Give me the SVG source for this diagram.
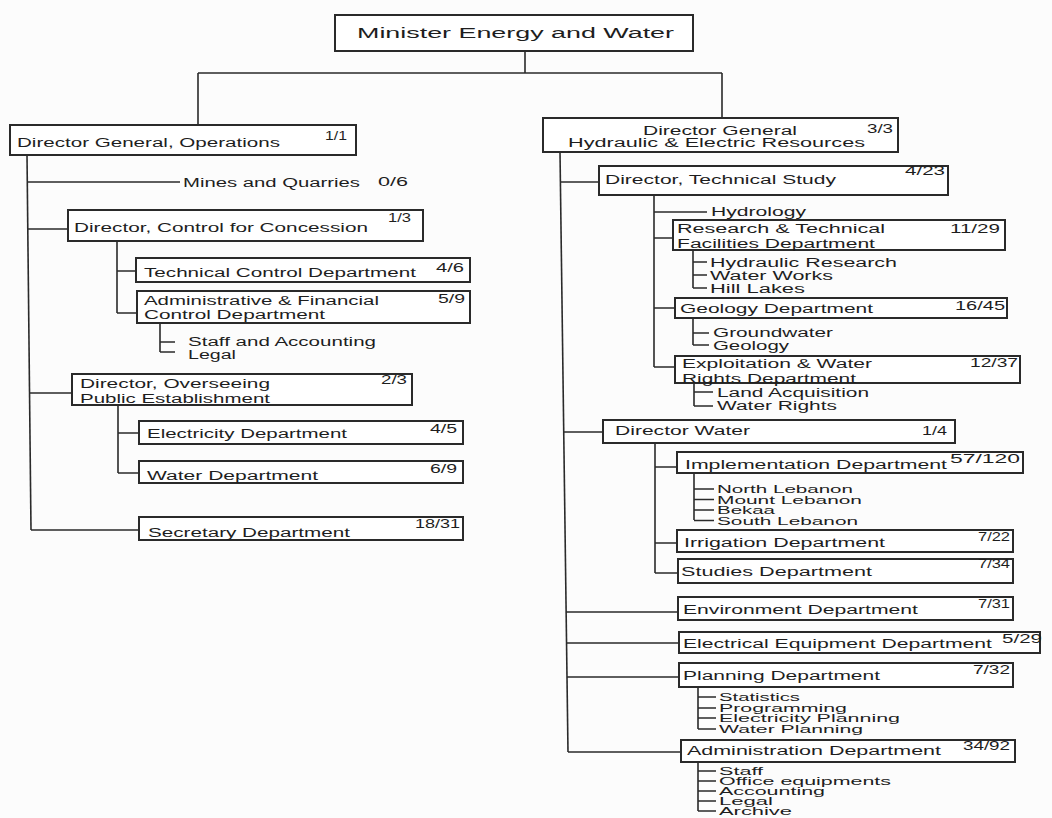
<svg xmlns="http://www.w3.org/2000/svg" width="1052" height="818" viewBox="0 0 1052 818">
<style>
.bg{fill:#fcfcfc}
.box{fill:#ffffff;stroke:#2a2a2a;stroke-width:2}
.ln{fill:none;stroke:#2a2a2a;stroke-width:1.6}
text{font-family:"Liberation Sans",Arial,sans-serif;font-size:12px;fill:#1e1e1e}
.big{font-size:14px}
.sm{font-size:10px}
</style>
<rect class="bg" x="0" y="0" width="1052" height="818"/>

<g id="connectors">
<path class="ln" d="M525 51V73M198 73H722M198 73V125M722 73V118"/>
<!-- left tree -->
<path class="ln" d="M27 155L31 530"/>
<path class="ln" d="M27 182H180"/>
<path class="ln" d="M28 229H68"/>
<path class="ln" d="M117 241V313M117 271H136M117 313H137"/>
<path class="ln" d="M160 323V352M160 342H175M160 352H175"/>
<path class="ln" d="M29 393H72"/>
<path class="ln" d="M118 405V473M118 433H139M118 473H139"/>
<path class="ln" d="M31 530H139"/>
<!-- right tree -->
<path class="ln" d="M560 152L568 752"/>
<path class="ln" d="M560.4 182H599"/>
<path class="ln" d="M654 195V367M654 212H707M654 238H673M654 308H675M654 367H675"/>
<path class="ln" d="M693 250V288M693 262H707M693 275H707M693 288H707"/>
<path class="ln" d="M693 318V345M693 333H709M693 345H709"/>
<path class="ln" d="M694 383V406M694 392H713M694 406H713"/>
<path class="ln" d="M563.7 432H603"/>
<path class="ln" d="M655 443V573M655 467H677M655 543H677M655 573H678"/>
<path class="ln" d="M694 473V520M694 489H714M694 499.5H714M694 510H714M694 520.5H714"/>
<path class="ln" d="M566.1 612H678"/>
<path class="ln" d="M566.5 643H679"/>
<path class="ln" d="M567 677H679"/>
<path class="ln" d="M568 752H681"/>
<path class="ln" d="M698 687V729M698 697H716M698 708H716M698 718H716M698 729H716"/>
<path class="ln" d="M698 762V811M698 771H716M698 781H716M698 791H716M698 801H716M698 811H716"/>
</g>

<g id="minister">
<rect class="box" x="335" y="15" width="358" height="36"/>
<text class="big" x="357" y="38" textLength="317" lengthAdjust="spacingAndGlyphs">Minister Energy and Water</text>
</g>

<g id="dg-operations">
<rect class="box" x="10" y="125" width="346" height="30"/>
<text x="17" y="147" textLength="263" lengthAdjust="spacingAndGlyphs">Director General, Operations</text>
<text x="325" y="140" textLength="22" lengthAdjust="spacingAndGlyphs">1/1</text>
</g>

<g id="mines">
<text x="183" y="187" textLength="177" lengthAdjust="spacingAndGlyphs">Mines and Quarries</text>
<text x="378" y="186" textLength="30" lengthAdjust="spacingAndGlyphs">0/6</text>
</g>

<g id="dir-concession">
<rect class="box" x="68" y="210" width="355" height="31"/>
<text x="74" y="232" textLength="294" lengthAdjust="spacingAndGlyphs">Director, Control for Concession</text>
<text x="388" y="222" textLength="23" lengthAdjust="spacingAndGlyphs">1/3</text>
</g>

<g id="tech-control">
<rect class="box" x="136" y="258" width="334" height="24"/>
<text x="144" y="277" textLength="272" lengthAdjust="spacingAndGlyphs">Technical Control Department</text>
<text x="436" y="272" textLength="28" lengthAdjust="spacingAndGlyphs">4/6</text>
</g>

<g id="admin-financial">
<rect class="box" x="137" y="291" width="333" height="32"/>
<text x="144" y="305" textLength="235" lengthAdjust="spacingAndGlyphs">Administrative &amp; Financial</text>
<text x="144" y="319" textLength="181" lengthAdjust="spacingAndGlyphs">Control Department</text>
<text x="438" y="303" textLength="27" lengthAdjust="spacingAndGlyphs">5/9</text>
<text x="188" y="346" textLength="188" lengthAdjust="spacingAndGlyphs">Staff and Accounting</text>
<text x="188" y="359" textLength="48" lengthAdjust="spacingAndGlyphs">Legal</text>
</g>

<g id="dir-overseeing">
<rect class="box" x="72" y="374" width="340" height="31"/>
<text x="80" y="388" textLength="190" lengthAdjust="spacingAndGlyphs">Director, Overseeing</text>
<text x="80" y="403" textLength="190" lengthAdjust="spacingAndGlyphs">Public Establishment</text>
<text x="381" y="384" textLength="26" lengthAdjust="spacingAndGlyphs">2/3</text>
</g>

<g id="electricity">
<rect class="box" x="139" y="421" width="324" height="23"/>
<text x="147" y="438" textLength="200" lengthAdjust="spacingAndGlyphs">Electricity Department</text>
<text x="430" y="433" textLength="27" lengthAdjust="spacingAndGlyphs">4/5</text>
</g>

<g id="water-dept">
<rect class="box" x="139" y="461" width="324" height="22"/>
<text x="147" y="480" textLength="171" lengthAdjust="spacingAndGlyphs">Water Department</text>
<text x="430" y="473" textLength="27" lengthAdjust="spacingAndGlyphs">6/9</text>
</g>

<g id="secretary">
<rect class="box" x="139" y="517" width="324" height="23"/>
<text x="148" y="537" textLength="202" lengthAdjust="spacingAndGlyphs">Secretary Department</text>
<text x="415" y="528" textLength="45" lengthAdjust="spacingAndGlyphs">18/31</text>
</g>

<g id="dg-hydraulic">
<rect class="box" x="543" y="118" width="355" height="34"/>
<text x="643" y="135" textLength="154" lengthAdjust="spacingAndGlyphs">Director General</text>
<text x="568" y="147" textLength="297" lengthAdjust="spacingAndGlyphs">Hydraulic &amp; Electric Resources</text>
<text x="867" y="133" textLength="26" lengthAdjust="spacingAndGlyphs">3/3</text>
</g>

<g id="dir-tech-study">
<rect class="box" x="599" y="166" width="349" height="29"/>
<text x="605" y="184" textLength="231" lengthAdjust="spacingAndGlyphs">Director, Technical Study</text>
<text x="905" y="175" textLength="40" lengthAdjust="spacingAndGlyphs">4/23</text>
<text x="711" y="216" textLength="95" lengthAdjust="spacingAndGlyphs">Hydrology</text>
</g>

<g id="research">
<rect class="box" x="673" y="220" width="332" height="30"/>
<text x="677" y="233" textLength="208" lengthAdjust="spacingAndGlyphs">Research &amp; Technical</text>
<text x="677" y="248" textLength="198" lengthAdjust="spacingAndGlyphs">Facilities Department</text>
<text x="950" y="233" textLength="50" lengthAdjust="spacingAndGlyphs">11/29</text>
<text x="710" y="267" textLength="187" lengthAdjust="spacingAndGlyphs">Hydraulic Research</text>
<text x="710" y="280" textLength="123" lengthAdjust="spacingAndGlyphs">Water Works</text>
<text x="710" y="293" textLength="95" lengthAdjust="spacingAndGlyphs">Hill Lakes</text>
</g>

<g id="geology">
<rect class="box" x="675" y="298" width="332" height="20"/>
<text x="680" y="313" textLength="193" lengthAdjust="spacingAndGlyphs">Geology Department</text>
<text x="955" y="310" textLength="50" lengthAdjust="spacingAndGlyphs">16/45</text>
<text x="713" y="337" textLength="120" lengthAdjust="spacingAndGlyphs">Groundwater</text>
<text x="713" y="350" textLength="76" lengthAdjust="spacingAndGlyphs">Geology</text>
</g>

<g id="exploitation">
<rect class="box" x="675" y="356" width="345" height="27"/>
<text x="682" y="368" textLength="190" lengthAdjust="spacingAndGlyphs">Exploitation &amp; Water</text>
<text x="682" y="383" textLength="174" lengthAdjust="spacingAndGlyphs">Rights Department</text>
<text x="970" y="367" textLength="48" lengthAdjust="spacingAndGlyphs">12/37</text>
<text x="717" y="397" textLength="152" lengthAdjust="spacingAndGlyphs">Land Acquisition</text>
<text x="717" y="410" textLength="120" lengthAdjust="spacingAndGlyphs">Water Rights</text>
</g>

<g id="dir-water">
<rect class="box" x="603" y="420" width="352" height="23"/>
<text x="615" y="435" textLength="135" lengthAdjust="spacingAndGlyphs">Director Water</text>
<text x="922" y="435" textLength="25" lengthAdjust="spacingAndGlyphs">1/4</text>
</g>

<g id="implementation">
<rect class="box" x="677" y="452" width="346" height="21"/>
<text x="685" y="469" textLength="262" lengthAdjust="spacingAndGlyphs">Implementation Department</text>
<text x="950" y="463" textLength="70" lengthAdjust="spacingAndGlyphs">57/120</text>
<text class="sm" x="717" y="493" textLength="136" lengthAdjust="spacingAndGlyphs">North Lebanon</text>
<text class="sm" x="717" y="503.5" textLength="145" lengthAdjust="spacingAndGlyphs">Mount Lebanon</text>
<text class="sm" x="717" y="514" textLength="58" lengthAdjust="spacingAndGlyphs">Bekaa</text>
<text class="sm" x="717" y="524.5" textLength="141" lengthAdjust="spacingAndGlyphs">South Lebanon</text>
</g>

<g id="irrigation">
<rect class="box" x="677" y="530" width="336" height="22"/>
<text x="684" y="547" textLength="201" lengthAdjust="spacingAndGlyphs">Irrigation Department</text>
<text x="978" y="541" textLength="32" lengthAdjust="spacingAndGlyphs">7/22</text>
</g>

<g id="studies">
<rect class="box" x="678" y="559" width="335" height="24"/>
<text x="681" y="576" textLength="191" lengthAdjust="spacingAndGlyphs">Studies Department</text>
<text x="978" y="568" textLength="32" lengthAdjust="spacingAndGlyphs">7/34</text>
</g>

<g id="environment">
<rect class="box" x="678" y="597" width="335" height="23"/>
<text x="683" y="614" textLength="235" lengthAdjust="spacingAndGlyphs">Environment Department</text>
<text x="978" y="608" textLength="32" lengthAdjust="spacingAndGlyphs">7/31</text>
</g>

<g id="electrical-equipment">
<rect class="box" x="679" y="632" width="361" height="21"/>
<text x="683" y="648" textLength="309" lengthAdjust="spacingAndGlyphs">Electrical Equipment Department</text>
<text x="1002" y="643" textLength="40" lengthAdjust="spacingAndGlyphs">5/29</text>
</g>

<g id="planning">
<rect class="box" x="679" y="663" width="334" height="24"/>
<text x="683" y="680" textLength="197" lengthAdjust="spacingAndGlyphs">Planning Department</text>
<text x="973" y="674" textLength="37" lengthAdjust="spacingAndGlyphs">7/32</text>
<text class="sm" x="719" y="701" textLength="81" lengthAdjust="spacingAndGlyphs">Statistics</text>
<text class="sm" x="719" y="712" textLength="128" lengthAdjust="spacingAndGlyphs">Programming</text>
<text class="sm" x="719" y="722" textLength="181" lengthAdjust="spacingAndGlyphs">Electricity Planning</text>
<text class="sm" x="719" y="733" textLength="144" lengthAdjust="spacingAndGlyphs">Water Planning</text>
</g>

<g id="administration">
<rect class="box" x="681" y="740" width="334" height="22"/>
<text x="687" y="755" textLength="254" lengthAdjust="spacingAndGlyphs">Administration Department</text>
<text x="963" y="750" textLength="47" lengthAdjust="spacingAndGlyphs">34/92</text>
<text class="sm" x="719" y="775" textLength="44" lengthAdjust="spacingAndGlyphs">Staff</text>
<text class="sm" x="719" y="785" textLength="172" lengthAdjust="spacingAndGlyphs">Office equipments</text>
<text class="sm" x="719" y="795" textLength="106" lengthAdjust="spacingAndGlyphs">Accounting</text>
<text class="sm" x="719" y="805" textLength="54" lengthAdjust="spacingAndGlyphs">Legal</text>
<text class="sm" x="719" y="815" textLength="73" lengthAdjust="spacingAndGlyphs">Archive</text>
</g>
</svg>
